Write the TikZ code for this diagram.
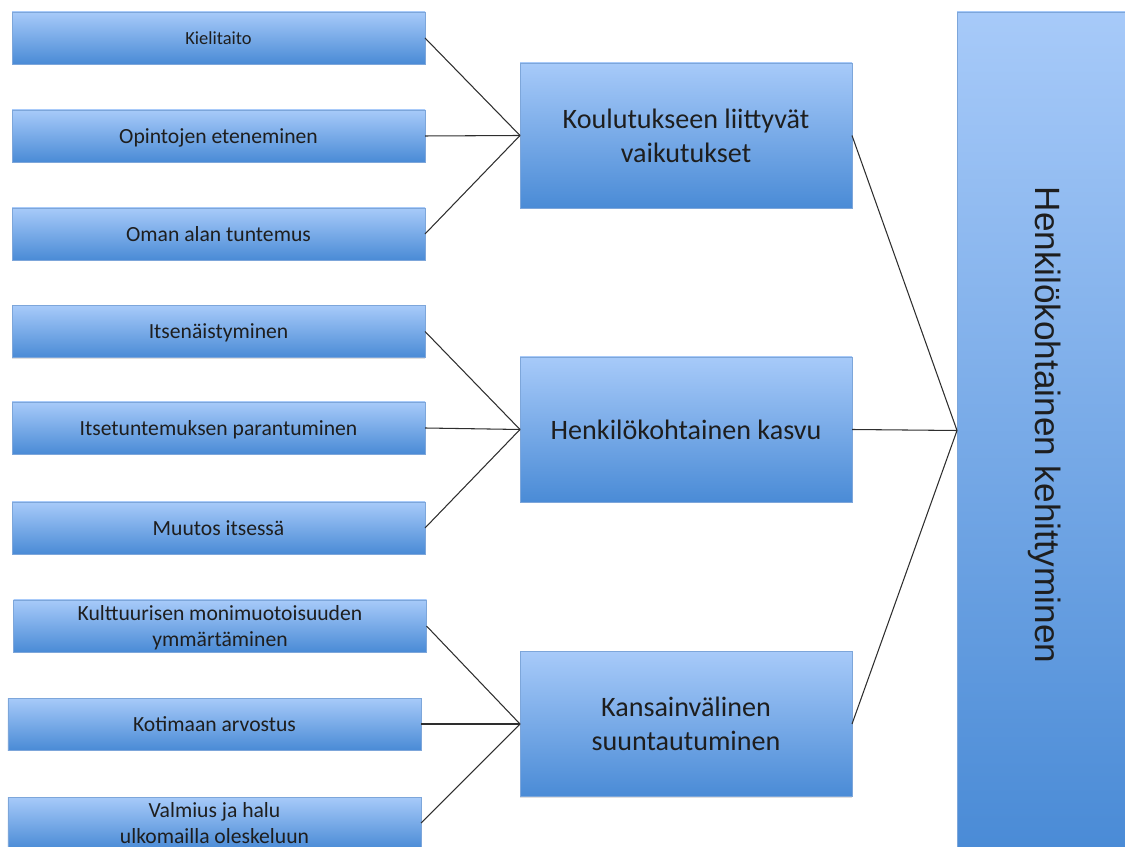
\documentclass[tikz,border=0pt]{standalone}
\usepackage{fontspec}
\setmainfont{Carlito}
\newfontfamily\headfont{Liberation Sans}
\usepackage{tikz}
\usetikzlibrary{shadows}
\definecolor{BoxTop}{HTML}{A7CAF9}
\definecolor{BoxBottom}{HTML}{4A8BD6}
\definecolor{BoxEdge}{HTML}{7DA6DA}
\definecolor{Ink}{HTML}{1E1E1E}
\definecolor{Wire}{HTML}{2E2E2E}
\tikzset{
  bluebox/.style={draw=BoxEdge, line width=0.5pt, top color=BoxTop, bottom color=BoxBottom,
    text=Ink, align=center, inner sep=0pt, outer sep=0pt, text depth=0pt,
    drop shadow={shadow xshift=0pt, shadow yshift=-0.7pt, opacity=0.25}},
  item/.style={bluebox, minimum width=8.26cm, minimum height=1.04cm, font=\fontsize{12.3}{14.8}\selectfont},
  theme/.style={bluebox, minimum width=6.64cm, minimum height=2.9cm, font=\fontsize{16}{19.2}\selectfont},
  goal/.style={bluebox, minimum width=3.52cm, minimum height=16.74cm},
  wire/.style={draw=Wire, line width=0.6pt},
}

\begin{document}
\begin{tikzpicture}
  \useasboundingbox (0,0) rectangle (22.5,16.92);
  \clip (0,0) rectangle (22.5,16.92);

  % Outcome column
  \node[goal] (goal) at (20.9,8.31) {};
  \node[rotate=-90, text=Ink, font=\headfont\fontsize{20}{24}\selectfont] at (20.9,8.42)
    {Henkilökohtainen kehittyminen};

  % Themes
  \node[theme] (edu) at (13.72,14.21) {Koulutukseen liittyvät\\vaikutukset};
  \node[theme] (growth) at (13.72,8.33) {Henkilökohtainen kasvu};
  \node[theme] (intl) at (13.72,2.44) {Kansainvälinen\\suuntautuminen};

  % Items, education
  \node[item, font=\fontsize{10.5}{12.6}\selectfont] (lang) at (4.37,16.16) {Kielitaito};
  \node[item] (study) at (4.37,14.20) {Opintojen eteneminen};
  \node[item] (field) at (4.37,12.24) {Oman alan tuntemus};

  % Items, growth
  \node[item] (indep) at (4.37,10.29) {Itsenäistyminen};
  \node[item] (self) at (4.37,8.36) {Itsetuntemuksen parantuminen};
  \node[item] (change) at (4.37,6.36) {Muutos itsessä};

  % Items, international
  \node[item] (culture) at (4.40,4.40) {Kulttuurisen monimuotoisuuden\\ymmärtäminen};
  \node[item] (home) at (4.29,2.44) {Kotimaan arvostus};
  \node[item] (abroad) at (4.29,0.46) {Valmius ja halu\\ulkomailla oleskeluun};

  % Connectors
  \foreach \src in {lang, study, field}
    \draw[wire] (\src.east) -- (edu.west);
  \foreach \src in {indep, self, change}
    \draw[wire] (\src.east) -- (growth.west);
  \foreach \src in {culture, home, abroad}
    \draw[wire] (\src.east) -- (intl.west);
  \foreach \src in {edu, growth, intl}
    \draw[wire] (\src.east) -- (goal.west);
\end{tikzpicture}
\end{document}
